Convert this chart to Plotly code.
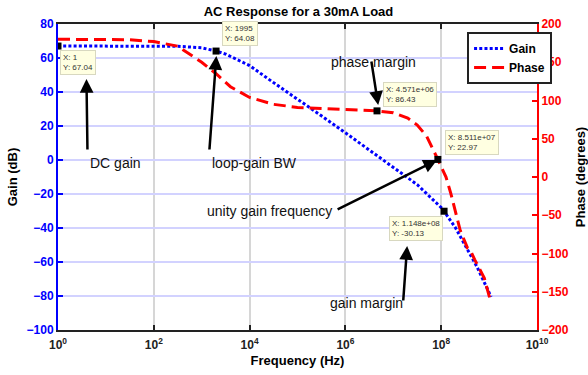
import plotly.graph_objects as go

# ---- data ----
gain_freq = [1, 10, 100, 316, 1000, 1995, 3162, 10000, 31623, 1e5, 3.162e5, 1e6, 3.162e6,
             1e7, 3.162e7, 1e8, 1.148e8, 2e8, 3.162e8, 5.623e8, 1e9, 1.1e9]
gain_db = [67.04, 67.04, 67.0, 66.9, 66.0, 64.08, 62.3, 55.5, 45.5, 36.0, 26.0, 16.0, 6.0,
           -4.0, -14.5, -28.0, -30.13, -40.0, -50.0, -63.0, -78.0, -80.5]

phase_freq = [1, 10, 30, 100, 316, 1000, 1995, 3981, 10000, 31623, 1e5, 3.162e5, 1e6, 3.162e6,
              4.571e6, 1e7, 2e7, 3.162e7, 5e7, 8.511e7, 1.26e8, 1.58e8, 2.5e8, 3.55e8, 4e8,
              5e8, 7.94e8, 1.1e9]
phase_deg = [180, 180, 179.5, 177, 171, 150, 135, 118, 104, 95, 91, 89.5, 88.5, 87,
             86.43, 84, 77, 68, 53, 22.97, 0, -21, -70, -93, -95, -108, -132, -165]

# data tips: (freq, value, axis, label)
tip_freq = [1, 1995, 4.571e6, 8.511e7, 1.148e8]
tip_val = [67.04, 64.08, 86.43, 22.97, -30.13]
tip_axis = ["y", "y", "y2", "y2", "y"]
tip_xtext = ["1", "1995", "4.571e+06", "8.511e+07", "1.148e+08"]
tip_ytext = ["67.04", "64.08", "86.43", "22.97", "-30.13"]

x_tickvals = [1, 1e2, 1e4, 1e6, 1e8, 1e10]
x_ticktext = ["10<sup>0</sup>", "10<sup>2</sup>", "10<sup>4</sup>", "10<sup>6</sup>",
              "10<sup>8</sup>", "10<sup>10</sup>"]
gain_ticks = [-100, -80, -60, -40, -20, 0, 20, 40, 60, 80]
phase_ticks = [-200, -150, -100, -50, 0, 50, 100, 150, 200]

FONT = "Liberation Sans, Arial, sans-serif"

# plot area in pixels
L, R, T, B = 57.5, 537, 24, 330
W, H = 588, 375


def px(xp):
    return (xp - L) / (R - L)


def py(yp):
    return (B - yp) / (B - T)


fig = go.Figure()
fig.add_trace(go.Scatter(x=gain_freq, y=gain_db, mode="lines", name="Gain",
                         line=dict(color="#0000ff", width=3, dash="3px,2.2px")))
fig.add_trace(go.Scatter(x=phase_freq, y=phase_deg, mode="lines", name="Phase", yaxis="y2",
                         line=dict(color="#ff0000", width=3, dash="12px,6px")))

for f, v, ax in zip(tip_freq, tip_val, tip_axis):
    fig.add_trace(go.Scatter(x=[f], y=[v], mode="markers", yaxis=ax, showlegend=False,
                             marker=dict(symbol="square", size=7, color="black")))

annotations = []
# data tip boxes (pixel positions of top-left corners)
tip_pos = [(60, 50), (222, 21), (383, 82), (445, 130), (389, 216)]
for (xp, yp), xt, yt in zip(tip_pos, tip_xtext, tip_ytext):
    annotations.append(dict(xref="paper", yref="paper", x=px(xp), y=py(yp),
                            xanchor="left", yanchor="top", showarrow=False, align="left",
                            text=f"X: {xt}<br>Y: {yt}",
                            font=dict(family=FONT, size=8, color="#333333"),
                            bgcolor="#ffffe1", bordercolor="#d8d8c0", borderwidth=1, borderpad=2))

# text labels
labels = [("DC gain", 88, 163), ("loop-gain BW", 210, 163), ("phase margin", 373, 52),
          ("unity gain frequency", 269, 211), ("gain margin", 405, 313)]
for t, xp, yp in labels:
    annotations.append(dict(xref="paper", yref="paper", x=px(xp), y=py(yp), showarrow=False,
                            text=t, font=dict(family=FONT, size=14, color="#111111")))

# arrows: tail -> head (pixels)
arrows = [((87, 151), (86, 79)), ((209, 151), (216, 56)), ((371, 60), (378, 105)),
          ((336, 210), (437, 160)), ((403, 302), (407, 246))]
for (tx, ty), (hx, hy) in arrows:
    annotations.append(dict(xref="paper", yref="paper", x=px(hx), y=py(hy), text="",
                            showarrow=True, ax=tx - hx, ay=ty - hy, arrowhead=2,
                            arrowsize=1.1, arrowwidth=2.5, arrowcolor="black", standoff=0))

fig.update_layout(
    width=W, height=H,
    margin=dict(l=L, r=W - R, t=T, b=H - B, pad=0, autoexpand=False),
    paper_bgcolor="white", plot_bgcolor="white",
    font=dict(family=FONT),
    title=dict(text="<b>AC Response for a 30mA Load</b>", x=(197 + 400) / 2 / W, xanchor="center",
               y=1 - 11 / H, yanchor="middle", font=dict(size=13, color="black")),
    xaxis=dict(type="log", range=[0, 10], tickvals=x_tickvals, ticktext=x_ticktext,
               ticks="inside", ticklen=5, tickwidth=1.5, tickcolor="#222222",
               showline=True, linecolor="#222222", linewidth=2, mirror="ticks",
               showgrid=True, gridcolor="#d6d6d6", gridwidth=1.5, zeroline=False,
               automargin=False, ticklabelstandoff=3,
               tickfont=dict(size=12, color="#222222", family=FONT, weight="bold"),
               title=dict(text="<b>Frequency (Hz)</b>", font=dict(size=13, color="black"),
                          standoff=4)),
    yaxis=dict(range=[-100, 80], tickvals=gain_ticks, ticks="inside", ticklen=5, tickwidth=1.5,
               tickcolor="#0000ff", showline=True, linecolor="#0000ff", linewidth=2,
               showgrid=True, gridcolor="#d2d2ff", gridwidth=1.5, zeroline=False,
               automargin=False,
               tickfont=dict(size=12, color="#0000ff", family=FONT, weight="bold"),
               title=dict(text="<b>Gain (dB)</b>", font=dict(size=13, color="black"),
                          standoff=6)),
    yaxis2=dict(range=[-200, 200], tickvals=phase_ticks, overlaying="y", side="right",
                ticks="inside", ticklen=5, tickwidth=1.5, tickcolor="#ff0000",
                showline=True, linecolor="#ff0000", linewidth=2, showgrid=False, zeroline=False,
                automargin=False,
                tickfont=dict(size=12, color="#ff0000", family=FONT, weight="bold"),
                title=dict(text="<b>Phase (degrees)</b>", font=dict(size=13, color="black"),
                           standoff=10)),
    legend=dict(x=px(467), y=py(32), xanchor="left", yanchor="top",
                bgcolor="white", bordercolor="#222222", borderwidth=2,
                font=dict(size=12, color="black", family=FONT),
                itemwidth=30, tracegroupgap=0),
    annotations=annotations,
    showlegend=True,
)
fig.data[0].name = "<b>Gain</b>"
fig.data[1].name = "<b>Phase</b>"

fig.write_html("out.html", config={"displayModeBar": False},
               post_script="document.body.style.margin='0px';document.body.style.padding='0px';")
